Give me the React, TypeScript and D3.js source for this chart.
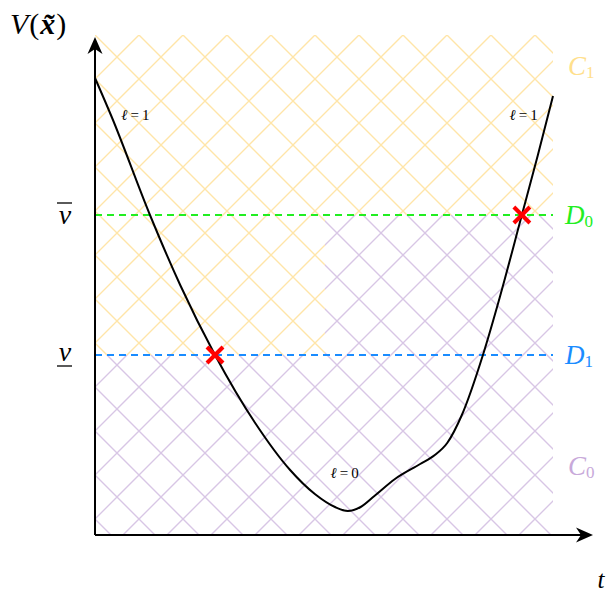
import React from "react";
import * as d3 from "d3";

// curve samples: t (0..100), V (0..100)
const curveT = [0, 3.7, 12.0, 18.6, 26.2, 34.9, 42.6, 48.0, 52.4, 55.2, 58.0, 61.0, 65.5, 71.0, 74.2, 76.9, 80.1, 84.7, 88.4, 93.2, 96.7, 100];
const curveV = [91.4, 83.5, 64, 50, 36, 22.5, 13, 8.2, 5.6, 4.8, 5.6, 7.8, 11.2, 14.2, 16, 18.4, 24, 36, 47.6, 64, 76, 87.8];
const vUpper = 64;
const vLower = 36;
const tSwitch = 50.2;
const crossT = [26.2, 93.2];
const crossV = [36, 64];
const branchLabels = [
  { t: 8.8, v: 83, text: "1" },
  { t: 93.6, v: 83, text: "1" },
  { t: 54.5, v: 11.4, text: "0" },
];

const W = 608, H = 594;
const x0 = 95, x1 = 553, yTop = 35, yBot = 535;

export default function App() {
  const x = d3.scaleLinear().domain([0, 100]).range([x0, x1]);
  const y = d3.scaleLinear().domain([0, 100]).range([yBot, yTop]);
  const pts: [number, number][] = curveT.map((t, i) => [t, curveV[i]]);
  const line = d3.line<[number, number]>().x(d => x(d[0])).y(d => y(d[1])).curve(d3.curveMonotoneX);

  const c1: [number, number][] = [[0, 100], [100, 100], [100, vUpper], [tSwitch, vUpper], [tSwitch, vLower], [0, vLower]];
  const c0: [number, number][] = [[0, vLower], [tSwitch, vLower], [tSwitch, vUpper], [100, vUpper], [100, 0], [0, 0]];
  const poly = d3.line<[number, number]>().x(d => x(d[0])).y(d => y(d[1]));

  const yellow = "#ffe5a8";
  const purple = "#d8c6e5";
  const mathFont = "Liberation Serif";

  const arrow = (tx: number, ty: number, angle: number) => (
    <path d="M0,0 L-17,-7.5 L-12,0 L-17,7.5 Z" fill="#000" transform={`translate(${tx},${ty}) rotate(${angle})`} />
  );

  const cross = (cx: number, cy: number, k: number) => (
    <g key={k} stroke="#ff0000" strokeWidth={4} strokeLinecap="butt">
      <line x1={cx - 8} y1={cy - 8} x2={cx + 8} y2={cy + 8} />
      <line x1={cx - 8} y1={cy + 8} x2={cx + 8} y2={cy - 8} />
    </g>
  );

  return (
    <svg width={W} height={H} style={{ position: "absolute", left: 0, top: 0, background: "#fff" }}>
      <defs>
        <pattern id="hy" patternUnits="userSpaceOnUse" width={44} height={44} x={29} y={13}>
          <path d="M-1,-1 L45,45 M-1,45 L45,-1" stroke={yellow} strokeWidth={1.4} fill="none" />
        </pattern>
        <pattern id="hp" patternUnits="userSpaceOnUse" width={44} height={44} x={29} y={13}>
          <path d="M-1,-1 L45,45 M-1,45 L45,-1" stroke={purple} strokeWidth={1.4} fill="none" />
        </pattern>
      </defs>
      <path d={poly(c1) + "Z"} fill="url(#hy)" />
      <path d={poly(c0) + "Z"} fill="url(#hp)" />

      {/* threshold lines */}
      <line x1={x(0)} x2={x(100)} y1={y(vUpper)} y2={y(vUpper)} stroke="#22ee22" strokeWidth={2} strokeDasharray="7 5" />
      <line x1={x(0)} x2={x(100)} y1={y(vLower)} y2={y(vLower)} stroke="#1a8cff" strokeWidth={2} strokeDasharray="7 5" />

      {/* axes */}
      <line x1={x0} y1={yBot} x2={x0} y2={44} stroke="#000" strokeWidth={2} />
      <line x1={x0} y1={yBot} x2={585} y2={yBot} stroke="#000" strokeWidth={2} />
      {arrow(x0, 37, -90)}
      {arrow(593, yBot, 0)}

      {/* curve */}
      <path d={line(pts) || ""} fill="none" stroke="#000" strokeWidth={2} />

      {crossT.map((t, i) => cross(x(t), y(crossV[i]), i))}

      {/* branch labels */}
      {branchLabels.map((b, i) => (
        <text key={i} x={x(b.t)} y={y(b.v)} fontFamily={mathFont} fontSize={15} textAnchor="middle">
          <tspan fontStyle="italic">ℓ</tspan>{"\u2009=\u2009"}<tspan>{b.text}</tspan>
        </text>
      ))}

      {/* y label */}
      <text x={10} y={34} fontFamily={mathFont} fontSize={30} letterSpacing={1}>
        <tspan fontStyle="italic">V</tspan>(<tspan fontStyle="italic" fontWeight="bold">x̃</tspan>)
      </text>
      <text x={601} y={588} fontFamily={mathFont} fontSize={25} fontStyle="italic" textAnchor="middle">t</text>

      {/* v bar / v underline */}
      <text x={65} y={y(vUpper) + 9} fontFamily={mathFont} fontSize={28} fontStyle="italic" textAnchor="middle">v</text>
      <line x1={57} x2={72} y1={y(vUpper) - 12} y2={y(vUpper) - 12} stroke="#000" strokeWidth={1.3} />
      <text x={65} y={y(vLower) + 6} fontFamily={mathFont} fontSize={28} fontStyle="italic" textAnchor="middle">v</text>
      <line x1={57} x2={72} y1={y(vLower) + 11} y2={y(vLower) + 11} stroke="#000" strokeWidth={1.3} />

      {/* right labels */}
      <text x={568} y={75} fontFamily={mathFont} fontSize={27} fontStyle="italic" fill="#ffe08c">C<tspan fontSize={17} fontStyle="normal" dy={3}>1</tspan></text>
      <text x={565} y={y(vUpper) + 9} fontFamily={mathFont} fontSize={27} fontStyle="italic" fill="#22ee22">D<tspan fontSize={17} fontStyle="normal" dy={3}>0</tspan></text>
      <text x={565} y={y(vLower) + 9} fontFamily={mathFont} fontSize={27} fontStyle="italic" fill="#1a8cff">D<tspan fontSize={17} fontStyle="normal" dy={3}>1</tspan></text>
      <text x={568} y={475} fontFamily={mathFont} fontSize={27} fontStyle="italic" fill="#c8a9da">C<tspan fontSize={17} fontStyle="normal" dy={3}>0</tspan></text>
    </svg>
  );
}
